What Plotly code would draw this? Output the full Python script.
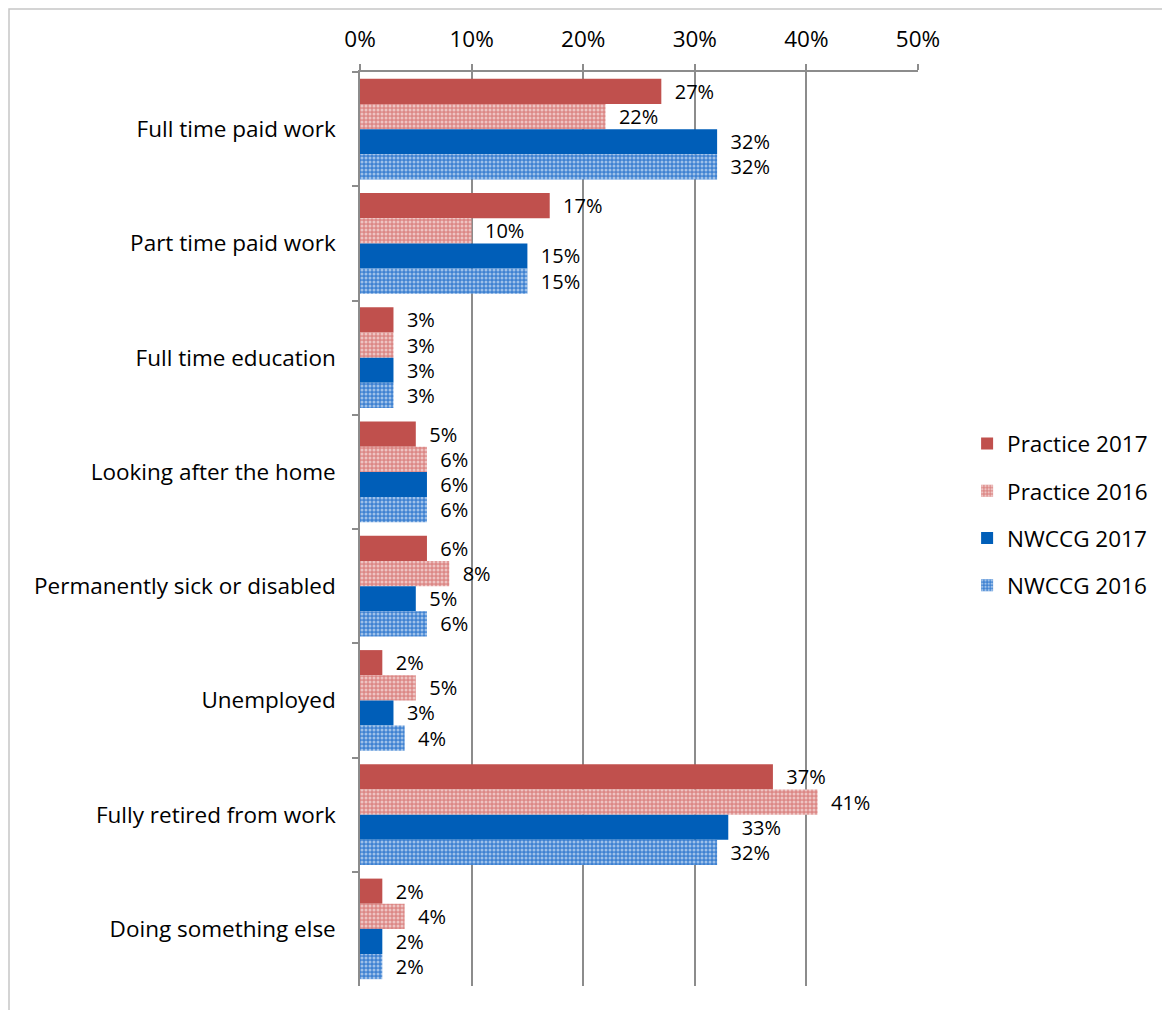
import plotly.graph_objects as go

categories = ["Full time paid work", "Part time paid work", "Full time education",
              "Looking after the home", "Permanently sick or disabled", "Unemployed",
              "Fully retired from work", "Doing something else"]
practice_2017 = [27, 17, 3, 5, 6, 2, 37, 2]
practice_2016 = [22, 10, 3, 6, 8, 5, 41, 4]
nwccg_2017 = [32, 15, 3, 6, 5, 3, 33, 2]
nwccg_2016 = [32, 15, 3, 6, 6, 4, 32, 2]
tick_vals = [0, 10, 20, 30, 40, 50]
tick_text = ["0%", "10%", "20%", "30%", "40%", "50%"]

FONT = "Open Sans"
FS = 22.5
LFS = 20
series = [
    ("Practice 2017", practice_2017, dict(color="#c0504d")),
    ("Practice 2016", practice_2016, dict(color="#e29a98",
                                          pattern=dict(shape=".", fgcolor="#ffffff", bgcolor="#dc8886",
                                                       size=4, solidity=0.45))),
    ("NWCCG 2017", nwccg_2017, dict(color="#005eb8")),
    ("NWCCG 2016", nwccg_2016, dict(color="#5d95d8",
                                    pattern=dict(shape=".", fgcolor="#ffffff", bgcolor="#3f82d2",
                                                 size=4, solidity=0.45))),
]

fig = go.Figure()
for i, (name, vals, marker) in enumerate(series):
    fig.add_trace(go.Bar(
        name=name, y=categories, x=vals, orientation="h",
        marker=dict(line=dict(width=0), **marker),
        text=[f"\u00a0\u00a0{v}%" for v in vals], textposition="outside",
        textfont=dict(family=FONT, size=LFS, color="#000000"),
        constraintext="none", cliponaxis=False,
        legendgroup=f"g{i}",
    ))

PW, PH, L, T = 558, 914, 352, 64
fig.update_layout(
    width=1162, height=1002,
    margin=dict(l=L, r=252, t=T, b=24, pad=0),
    paper_bgcolor="white", plot_bgcolor="white",
    barmode="group", bargap=0.12, bargroupgap=0,
    font=dict(family=FONT, size=FS, color="#000000"),
    legend=dict(x=1.088, y=0.516, xanchor="left", yanchor="middle",
                font=dict(family=FONT, size=FS), tracegroupgap=15,
                itemwidth=30),
    xaxis=dict(side="top", range=[0, 50], tickvals=tick_vals, ticktext=tick_text,
               showgrid=True, gridcolor="#8c8c8c", gridwidth=1.5,
               showline=True, linecolor="#8c8c8c", linewidth=1.5,
               ticks="outside", ticklen=6, tickcolor="#8c8c8c", tickwidth=1.5,
               zeroline=False, ticklabelstandoff=8,
               tickfont=dict(family=FONT, size=FS)),
    yaxis=dict(autorange="reversed", showline=True, linecolor="#8c8c8c", linewidth=1.5,
               ticks="outside", ticklen=6, tickcolor="#8c8c8c", tickwidth=1.5,
               tickson="boundaries", showgrid=False, ticklabelstandoff=18,
               tickfont=dict(family=FONT, size=FS)),
    shapes=[dict(type="rect", xref="paper", yref="paper",
                 x0=(1 - L) / PW, x1=1.6, y0=-0.2, y1=1 + (T - 1) / PH,
                 line=dict(color="#c6c6c6", width=1.5), fillcolor="rgba(0,0,0,0)",
                 layer="below")],
)

fig.write_html("out.html")
